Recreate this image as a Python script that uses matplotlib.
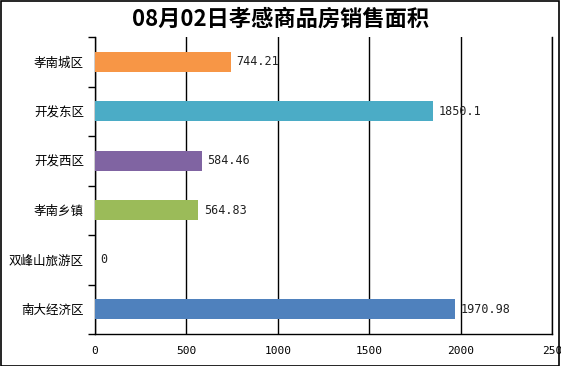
import matplotlib
matplotlib.use("Agg")
import matplotlib.pyplot as plt
import numpy as np

plt.rcParams['font.family'] = ['Noto Sans CJK SC', 'DejaVu Sans']

districts = ['孝南城区', '开发东区', '开发西区', '孝南乡镇', '双峰山旅游区', '南大经济区']
areas = [744.21, 1850.1, 584.46, 564.83, 0, 1970.98]
area_labels = ['744.21', '1850.1', '584.46', '564.83', '0', '1970.98']
colors = ['#F79646', '#4BACC6', '#8064A2', '#9BBB59', '#4F81BD', '#4F81BD']
x_ticks = [0, 500, 1000, 1500, 2000, 2500]
x_tick_labels = ['0', '500', '1000', '1500', '2000', '250']

fig = plt.figure(figsize=(5.61, 3.66), dpi=100)
ax = fig.add_axes([95 / 561, 1 - 334 / 366, 457 / 561, 297 / 366])

y = np.arange(len(districts))
ax.barh(y, areas, height=0.4, color=colors, zorder=3)

for yi, v, lab in zip(y, areas, area_labels):
    ax.text(v + 2500 * 0.012, yi, lab, va='center', ha='left',
            fontsize=8.5, family='DejaVu Sans Mono', color='#222222', zorder=4)

ax.set_xlim(0, 2500)
ax.set_ylim(len(districts) - 0.5, -0.5)
ax.set_xticks(x_ticks)
ax.set_xticklabels(x_tick_labels, fontsize=8, family='DejaVu Sans Mono')
ax.tick_params(axis='x', length=0, pad=9)
ax.set_yticks(y)
ax.set_yticklabels(districts, fontsize=9)
ax.tick_params(axis='y', which='major', length=0, pad=8)
ax.set_yticks(np.arange(-0.5, len(districts)), minor=True)
ax.tick_params(axis='y', which='minor', length=5, width=1, color='black', direction='out')
ax.xaxis.grid(True, color='black', linewidth=1, zorder=1)
ax.axvline(2500, color='black', linewidth=1, clip_on=False, zorder=1)

for side in ['top', 'right']:
    ax.spines[side].set_visible(False)
for side in ['left', 'bottom']:
    ax.spines[side].set_linewidth(1)

fig.text(0.5, 1 - 19 / 366, '08月02日孝感商品房销售面积', ha='center', va='center',
         fontsize=16, fontweight='bold')

border = plt.Rectangle((0.001, 0.001), 0.996, 0.996, transform=fig.transFigure,
                       fill=False, edgecolor='black', linewidth=1.2)
fig.patches.append(border)

fig.savefig('out.png', dpi=100)
